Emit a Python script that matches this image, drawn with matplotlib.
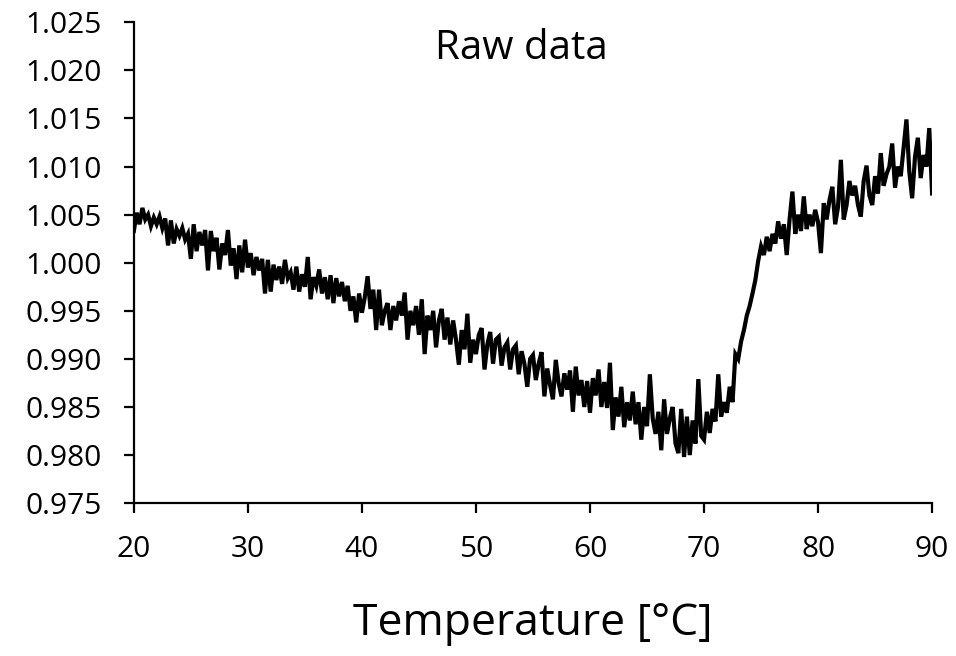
import numpy as np
import matplotlib
matplotlib.use("Agg")
import matplotlib.pyplot as plt

# Normalised signal, one value every 0.25 degC from 20 to 90 degC.
ratio = [
    1.0033, 1.0052, 1.0040, 1.0057,  # 20
    1.0045, 1.0050, 1.0038, 1.0047,  # 21
    1.0040, 1.0048, 1.0036, 1.0046,  # 22
    1.0018, 1.0044, 1.0020, 1.0035,  # 23
    1.0028, 1.0036, 1.0024, 1.0030,  # 24
    1.0004, 1.0040, 1.0012, 1.0032,  # 25
    1.0018, 1.0034, 0.9992, 1.0033,  # 26
    1.0012, 1.0026, 0.9993, 1.0020,  # 27
    1.0008, 1.0034, 0.9997, 1.0015,  # 28
    0.9983, 1.0018, 0.9990, 1.0024,  # 29
    0.9995, 1.0010, 0.9987, 1.0006,  # 30
    0.9992, 1.0004, 0.9968, 1.0003,  # 31
    0.9970, 0.9998, 0.9982, 0.9996,  # 32
    0.9978, 1.0003, 0.9984, 0.9990,  # 33
    0.9972, 0.9996, 0.9970, 0.9988,  # 34
    0.9975, 1.0006, 0.9962, 0.9985,  # 35
    0.9976, 0.9993, 0.9968, 0.9985,  # 36
    0.9962, 0.9987, 0.9958, 0.9984,  # 37
    0.9965, 0.9980, 0.9960, 0.9976,  # 38
    0.9950, 0.9965, 0.9938, 0.9968,  # 39
    0.9948, 0.9964, 0.9986, 0.9952,  # 40
    0.9972, 0.9930, 0.9972, 0.9935,  # 41
    0.9950, 0.9958, 0.9930, 0.9955,  # 42
    0.9940, 0.9960, 0.9945, 0.9969,  # 43
    0.9920, 0.9950, 0.9935, 0.9955,  # 44
    0.9925, 0.9962, 0.9905, 0.9945,  # 45
    0.9930, 0.9950, 0.9912, 0.9940,  # 46
    0.9952, 0.9920, 0.9943, 0.9915,  # 47
    0.9940, 0.9920, 0.9894, 0.9930,  # 48
    0.9910, 0.9947, 0.9896, 0.9920,  # 49
    0.9905, 0.9925, 0.9932, 0.9889,  # 50
    0.9915, 0.9928, 0.9895, 0.9920,  # 51
    0.9923, 0.9893, 0.9912, 0.9917,  # 52
    0.9889, 0.9910, 0.9914, 0.9884,  # 53
    0.9908, 0.9895, 0.9871, 0.9900,  # 54
    0.9904, 0.9878, 0.9895, 0.9907,  # 55
    0.9861, 0.9890, 0.9873, 0.9858,  # 56
    0.9899, 0.9875, 0.9861, 0.9885,  # 57
    0.9868, 0.9888, 0.9845, 0.9892,  # 58
    0.9862, 0.9878, 0.9850, 0.9877,  # 59
    0.9844, 0.9880, 0.9862, 0.9889,  # 60
    0.9850, 0.9876, 0.9849, 0.9896,  # 61
    0.9826, 0.9860, 0.9840, 0.9871,  # 62
    0.9829, 0.9855, 0.9836, 0.9866,  # 63
    0.9832, 0.9855, 0.9816, 0.9850,  # 64
    0.9830, 0.9884, 0.9838, 0.9822,  # 65
    0.9845, 0.9805, 0.9858, 0.9822,  # 66
    0.9838, 0.9850, 0.9812, 0.9802,  # 67
    0.9848, 0.9798, 0.9840, 0.9800,  # 68
    0.9836, 0.9812, 0.9879, 0.9820,  # 69
    0.9816, 0.9845, 0.9823, 0.9848,  # 70
    0.9835, 0.9884, 0.9840, 0.9855,  # 71
    0.9844, 0.9871, 0.9855, 0.9905,  # 72
    0.9900, 0.9918, 0.9930, 0.9945,  # 73
    0.9955, 0.9968, 0.9982, 1.0002,  # 74
    1.0017, 1.0008, 1.0027, 1.0012,  # 75
    1.0030, 1.0020, 1.0043, 1.0025,  # 76
    1.0040, 1.0008, 1.0045, 1.0074,  # 77
    1.0030, 1.0050, 1.0033, 1.0069,  # 78
    1.0035, 1.0050, 1.0038, 1.0055,  # 79
    1.0042, 1.0010, 1.0062, 1.0045,  # 80
    1.0065, 1.0079, 1.0040, 1.0058,  # 81
    1.0107, 1.0045, 1.0060, 1.0085,  # 82
    1.0070, 1.0080, 1.0060, 1.0048,  # 83
    1.0085, 1.0101, 1.0070, 1.0060,  # 84
    1.0090, 1.0072, 1.0114, 1.0080,  # 85
    1.0092, 1.0100, 1.0124, 1.0078,  # 86
    1.0100, 1.0090, 1.0120, 1.0149,  # 87
    1.0095, 1.0067, 1.0110, 1.0130,  # 88
    1.0088, 1.0112, 1.0100, 1.0140,  # 89
    1.0072,                          # 90
]
temperature = np.linspace(20, 90, len(ratio))

x_ticks = [20, 30, 40, 50, 60, 70, 80, 90]
y_ticks = [0.975, 0.980, 0.985, 0.990, 0.995, 1.000, 1.005, 1.010, 1.015, 1.020, 1.025]

plt.rcParams["font.family"] = ["Open Sans", "DejaVu Sans"]

fig = plt.figure(figsize=(9.56, 6.56), dpi=100)
ax = fig.add_axes([0.140, 0.233, 0.835, 0.733])

ax.plot(temperature, ratio, color="black", linewidth=3.0, solid_joinstyle="miter")

ax.set_xlim(20, 90)
ax.set_ylim(0.975, 1.025)
ax.set_xticks(x_ticks)
ax.set_yticks(y_ticks)
ax.set_yticklabels([f"{v:.3f}" for v in y_ticks])

for side in ("top", "right"):
    ax.spines[side].set_visible(False)
for side in ("left", "bottom"):
    ax.spines[side].set_linewidth(1.6)

ax.tick_params(axis="both", direction="out", length=7, width=1.6, labelsize=21.5)
ax.tick_params(axis="y", pad=16)
ax.tick_params(axis="x", pad=16)

ax.set_xlabel("Temperature [°C]", fontsize=32, labelpad=27)
ax.text(54, 1.0222, "Raw data", fontsize=29, ha="center", va="center")

fig.savefig("out.png", dpi=100)
